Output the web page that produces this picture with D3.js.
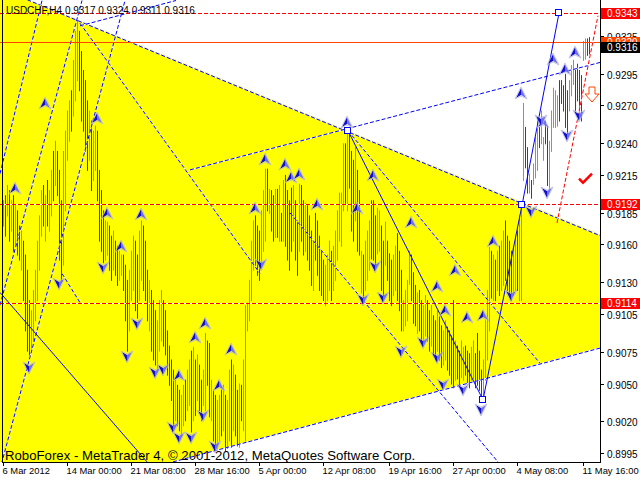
<!DOCTYPE html>
<html><head><meta charset="utf-8">
<script src="https://cdn.jsdelivr.net/npm/d3@7"></script>
<style>body{margin:0;background:#fff}svg{display:block}</style>
</head><body>
<svg id="c" width="640" height="480"></svg>
<script>
// ---- DATA (prices × 10^4) ----
const symbol = "USDCHF,H4";
const lastOHLC = ["0.9317", "0.9324", "0.9311", "0.9316"];
const copyright = "RoboForex - MetaTrader 4, © 2001-2012, MetaQuotes Software Corp.";
const high4 = [9195,9199,9207,9203,9195,9199,9191,9187,9175,9171,9163,9152,9140,9116,9108,9124,9140,9163,9183,9203,
9207,9199,9211,9203,9219,9234,9242,9234,9219,9195,9234,9250,9266,9274,9282,9306,9329,9337,9329,9313,
9298,9290,9274,9266,9258,9250,9254,9250,9219,9203,9187,9179,9178,9175,9167,9171,9163,9159,9155,9152,
9152,9144,9132,9140,9155,9167,9163,9152,9171,9179,9175,9163,9140,9132,9124,9116,9108,9100,9116,9124,
9116,9108,9092,9080,9069,9061,9053,9049,9045,9041,9049,9053,9061,9069,9076,9079,9069,9073,9065,9053,
9061,9090,9084,9082,9053,9045,9041,9037,9041,9045,9049,9041,9037,9061,9069,9065,9057,9045,9050,9049,
9069,9112,9114,9132,9163,9179,9183,9175,9171,9187,9203,9220,9220,9204,9203,9199,9204,9204,9207,9185,
9211,9215,9203,9195,9205,9207,9195,9179,9208,9207,9195,9193,9191,9183,9171,9163,9185,9179,9167,9155,
9148,9144,9152,9163,9155,9159,9171,9187,9201,9201,9240,9240,9249,9248,9234,9227,9237,9219,9203,9155,
9152,9163,9171,9179,9195,9195,9183,9189,9187,9175,9163,9178,9163,9153,9148,9152,9159,9169,9155,9140,
9116,9124,9132,9155,9152,9138,9128,9122,9124,9116,9112,9120,9116,9108,9112,9104,9100,9108,9103,9096,
9092,9100,9095,9092,9088,9116,9084,9080,9076,9084,9079,9080,9076,9074,9079,9084,9074,9090,9076,9061,
9069,9100,9124,9158,9155,9152,9148,9155,9159,9163,9171,9179,9167,9163,9155,9159,9167,9171,9183,9191,
9272,9253,9237,9216,9211,9224,9245,9261,9253,9266,9245,9258,9254,9242,9266,9284,9282,9278,9290,9290,
9286,9295,9282,9290,9302,9306,9298,9303,9298,9294,9321,9323,9323,9324];
const low4 = [9175,9167,9183,9163,9171,9155,9159,9152,9148,9140,9116,9092,9076,9073,9076,9084,9100,9116,9140,9167,
9175,9163,9175,9171,9183,9195,9207,9199,9148,9132,9144,9187,9227,9242,9250,9262,9274,9290,9282,9258,
9250,9234,9219,9227,9203,9211,9219,9195,9163,9155,9146,9148,9152,9140,9132,9140,9136,9128,9132,9136,
9124,9100,9076,9092,9116,9124,9108,9102,9116,9132,9124,9116,9100,9092,9076,9069,9065,9061,9076,9084,
9080,9073,9057,9049,9037,9017,9021,9017,9013,9009,9017,9021,9029,9033,9012,9021,9025,9037,9029,9021,
9033,9029,9049,9024,9021,9005,9001,8999,9005,9009,9013,8997,8999,9005,9000,9013,9009,9001,9000,9021,
9013,9005,9092,9100,9116,9140,9144,9136,9132,9144,9155,9163,9187,9185,9171,9163,9166,9166,9163,9163,
9163,9159,9148,9140,9155,9163,9148,9136,9155,9163,9152,9155,9148,9140,9128,9124,9148,9136,9124,9120,
9116,9112,9116,9124,9116,9124,9132,9148,9163,9159,9187,9193,9187,9205,9171,9163,9179,9155,9152,9122,
9116,9124,9132,9140,9149,9148,9142,9153,9155,9124,9118,9144,9132,9116,9112,9120,9124,9116,9108,9092,
9092,9096,9100,9129,9116,9098,9096,9090,9092,9084,9080,9088,9084,9076,9080,9073,9069,9076,9069,9063,
9065,9069,9061,9057,9050,9047,9053,9054,9049,9055,9053,9057,9050,9047,9053,9054,9047,9049,9045,9039,
9037,9053,9069,9092,9118,9116,9116,9124,9120,9124,9128,9132,9124,9120,9116,9120,9124,9124,9116,9116,
9211,9221,9201,9201,9197,9208,9213,9219,9237,9240,9227,9240,9207,9203,9234,9253,9253,9254,9258,9272,
9266,9253,9246,9266,9278,9287,9266,9274,9264,9258,9306,9307,9310,9311];
// bar direction (u = up / close > open, d = down), ten bars per group
const barDir = [
 "u d u d u d u d d u","d d d d u u u u u u","d u d u u d u d d d","u u u u d u u u d d","d d d u d u u d d d",
 "d u u d d u d d u u","d d d u u u d d u u","d d d u d d d u u u","d d d d d d u d d u","u d u u d u d u d d",
 "u u d d u d d u u d","u d u u d u d d u d","u u u u u u d d d u","u u d u d d u d u d","u d d d d u d d u d",
 "d u d d d u d d d d","d u u u d u u u u u","u d u d d d u d d u","d u u u d d d u u d","d u d d d u u d d d",
 "u u u u d d d u d d","u u d d u d d u d d","u u d d d d u d d u","u d d d u u d d d d","u u u u d u d u d u",
 "u d d d d u u d u u","u d d u d u u u d u","u d d u u u u u d d","d d d u u u d d d d","u u d d"
].join(" ").split(" ");
const timeLabels = ["6 Mar 2012","14 Mar 00:00","21 Mar 08:00","28 Mar 16:00","5 Apr 00:00","12 Apr 08:00","19 Apr 16:00","27 Apr 00:00","4 May 08:00","11 May 16:00"];
const timeLabelBar = [0,32,64,96,128,160,193,225,257,290];
const priceTicks = [0.9325,0.9295,0.9270,0.9240,0.9215,0.9185,0.9160,0.9130,0.9105,0.9075,0.9050,0.9020,0.8995];
const levelLines = [0.9343, 0.9192, 0.9114];        // red dashed horizontals
const orangeLevel = 0.9320;                          // solid orange horizontal
const bidPrice = 0.9316;
// zigzag (bar index, price)
const zigBar = [172.5, 240, 259.5, 278];
const zigPrice = [0.9250, 0.9037, 0.9191, 0.9343];
// triangle vertices (bar index, price)
const triBar = [-101.5, 381.5, -101.5];
const triPrice = [0.9428, 0.9114, 0.8909];
// dashed trend lines: [bar1, price1, bar2, price2]
const dashedLines = [
  [37.5,0.9337,298.5,0.9167],   // triangle upper edge
  [-101.5,0.9428,37.5,0.9337],
  [85,0.8988,298.5,0.9078],     // triangle lower edge
  [93.5,0.9219,298.5,0.9304],   // rising line from 28 Mar
  [38.5,0.9333,86.5,0.9353],    // parallel through 14 Mar high
  [-1.5,0.8982,61,0.9353],      // rising channel 6-14 Mar
  [-1.5,0.9112,39.5,0.9353],
  [-1.5,0.9216,19.5,0.9353],
  [38.5,0.9335,128.5,0.9137],   // falling line from 14 Mar high
  [29.5,0.9137,38.5,0.9114],
  [172.5,0.9250,268.5,0.9066],  // falling channel from 12 Apr high
  [143.5,0.9185,248.5,0.8986]
];
const solidLines = [[-1.5,0.9122,72,0.8988]];
const redForecast = [277,0.9177,297.5,0.9341];
const upMkBar = [6,21,47,52,59,69,88,96,101,108,114,126,131,141,144,148,157,172,177,185,204,217,221,226,232,240,245,259,270,275,281,286];
const upMkPrice = [9205,9272,9260,9185,9159,9184,9057,9087,9098,9049,9077,9189,9228,9224,9213,9216,9192,9257,9189,9215,9178,9127,9108,9140,9103,9104,9163,9280,9257,9307,9299,9312];
const dnMkBar = [13,28,50,62,67,76,80,85,88,94,100,106,129,180,186,190,199,210,217,220,230,239,254,264,272,269,282,288];
const dnMkPrice = [9062,9129,9141,9071,9097,9058,9061,9015,9007,9007,9024,9000,9144,9116,9142,9118,9075,9082,9070,9049,9045,9029,9119,9186,9201,9258,9246,9262];

// ---- DRAW ----
const W = 640, H = 480, PR = 600, PB = 462;
const svg = d3.select("#c");
const x = d3.scaleLinear().domain([-1.5, 298.5]).range([0, PR]);
const y = d3.scaleLinear().domain([0.89879, 0.93534]).range([PB, 0]);
const P = v => v / 10000;
const F = "'Liberation Sans', Arial, sans-serif";

svg.append("rect").attr("width", W).attr("height", H).attr("fill", "#fff");
svg.append("defs").append("clipPath").attr("id", "pc").append("rect")
  .attr("x", 0).attr("y", 0).attr("width", PR).attr("height", PB);
const g = svg.append("g").attr("clip-path", "url(#pc)");

g.append("polygon")
  .attr("points", triBar.map((b, k) => x(b) + "," + y(triPrice[k])).join(" "))
  .attr("fill", "#ffff00");

function dashed(sel, x1, y1, x2, y2, col) {
  sel.append("line").attr("x1", x1).attr("y1", y1).attr("x2", x2).attr("y2", y2)
    .attr("stroke", "#fff").attr("stroke-width", 1);
  sel.append("line").attr("x1", x1).attr("y1", y1).attr("x2", x2).attr("y2", y2)
    .attr("stroke", col).attr("stroke-width", 1).attr("stroke-dasharray", "4,2");
}

const n = high4.length;
const bars = d3.range(n).map(i => ({i, h: P(high4[i]), l: P(low4[i]), d: barDir[i] || "u"}));
g.selectAll("line.bar").data(bars).enter().append("line")
  .attr("x1", d => Math.round(x(d.i)) + 0.5).attr("x2", d => Math.round(x(d.i)) + 0.5)
  .attr("y1", d => y(d.h)).attr("y2", d => y(d.l) + 1)
  .attr("stroke", d => d.d === "u" ? "#22dd22" : "#e00000").attr("stroke-width", 1);

dashedLines.forEach(l => dashed(g, x(l[0]), y(l[1]), x(l[2]), y(l[3]), "#0000ff"));
solidLines.forEach(l => g.append("line").attr("x1", x(l[0])).attr("y1", y(l[1])).attr("x2", x(l[2])).attr("y2", y(l[3]))
  .attr("stroke", "#0000ff").attr("stroke-width", 1));

levelLines.forEach(p => dashed(g, 0, Math.round(y(p)) + 0.5, PR, Math.round(y(p)) + 0.5, "#ff0000"));
g.append("line").attr("x1", 0).attr("x2", PR).attr("y1", Math.round(y(orangeLevel)) + 0.5).attr("y2", Math.round(y(orangeLevel)) + 0.5)
  .attr("stroke", "#ff4500").attr("stroke-width", 1);
dashed(g, x(redForecast[0]), y(redForecast[1]), x(redForecast[2]), y(redForecast[3]), "#ff0000");

g.append("path").attr("d", d3.line()(zigBar.map((b, k) => [x(b), y(zigPrice[k])])))
  .attr("fill", "none").attr("stroke", "#0000ff").attr("stroke-width", 1);
zigBar.forEach((b, k) => g.append("rect").attr("x", Math.round(x(b)) - 3.5).attr("y", Math.round(y(zigPrice[k])) - 3.5)
  .attr("width", 6).attr("height", 6).attr("fill", "#fff").attr("stroke", "#0000ff"));

// arrow markers (two-tone)
function marker(b, p, up) {
  const s = up ? 1 : -1;
  const m = g.append("g").attr("transform", `translate(${Math.round(x(b))},${Math.round(y(P(p)))}) scale(1,${s})`);
  m.append("path").attr("d", "M0,-5L-5,5L0,2Z").attr("fill", "#1010d0");
  m.append("path").attr("d", "M0,-5L5,5L0,2Z").attr("fill", "#7070f0");
  m.append("path").attr("d", "M0,-6L6,6L0,3L-6,6Z").attr("fill", "none").attr("stroke", "#b8b8d8").attr("stroke-width", 0.8);
}
upMkBar.forEach((b, k) => marker(b, upMkPrice[k], true));
dnMkBar.forEach((b, k) => marker(b, dnMkPrice[k], false));

g.append("path").attr("d", `M${x(288)},${y(0.9212)} l4,4 l9,-9`).attr("fill", "none")
  .attr("stroke", "#ff0000").attr("stroke-width", 2.5);
g.append("path").attr("d", "M-3,-7h6v7h4l-7,8l-7,-8h4z")
  .attr("transform", `translate(${x(294.5)},${y(0.9279)})`)
  .attr("fill", "#fff").attr("stroke", "#ff4500").attr("stroke-width", 1);

svg.append("line").attr("x1", PR + 0.5).attr("x2", PR + 0.5).attr("y1", 0).attr("y2", PB + 1).attr("stroke", "#000");
svg.append("line").attr("x1", 2).attr("x2", PR + 1).attr("y1", PB + 0.5).attr("y2", PB + 0.5).attr("stroke", "#000");
svg.append("line").attr("x1", 2.5).attr("x2", 2.5).attr("y1", 0).attr("y2", PB).attr("stroke", "#000");

const ax = svg.append("g");
priceTicks.forEach(p => {
  const yy = Math.round(y(p)) + 0.5;
  ax.append("line").attr("x1", PR).attr("x2", PR + 4).attr("y1", yy).attr("y2", yy).attr("stroke", "#000");
  ax.append("text").attr("x", 607).attr("y", yy + 4).text(p.toFixed(4))
    .attr("font-family", F).attr("font-size", 10).attr("fill", "#000");
});
function tag(p, bg) {
  const yy = Math.round(y(p));
  ax.append("rect").attr("x", 601).attr("y", yy - 5).attr("width", 39).attr("height", 11).attr("fill", bg);
  ax.append("text").attr("x", 607).attr("y", yy + 4).text(p.toFixed(4))
    .attr("font-family", F).attr("font-size", 10).attr("fill", "#fff");
}
tag(orangeLevel, "#ff4500");
tag(bidPrice, "#000000");
levelLines.forEach(p => tag(p, "#ff0000"));

timeLabelBar.forEach((b, k) => {
  const xx = Math.round(x(b)) + 0.5;
  ax.append("line").attr("x1", xx).attr("x2", xx).attr("y1", PB).attr("y2", PB + 4).attr("stroke", "#000");
  ax.append("text").attr("x", xx - 1).attr("y", 474).text(timeLabels[k])
    .attr("font-family", F).attr("font-size", 9.4).attr("fill", "#000");
});

svg.append("text").attr("x", 6).attr("y", 14).text(symbol + "  " + lastOHLC.join(" "))
  .attr("font-family", F).attr("font-size", 10).attr("fill", "#000");
svg.append("text").attr("x", 5).attr("y", 460).text(copyright)
  .attr("font-family", F).attr("font-size", 13.2).attr("fill", "#000");
</script>
</body></html>
